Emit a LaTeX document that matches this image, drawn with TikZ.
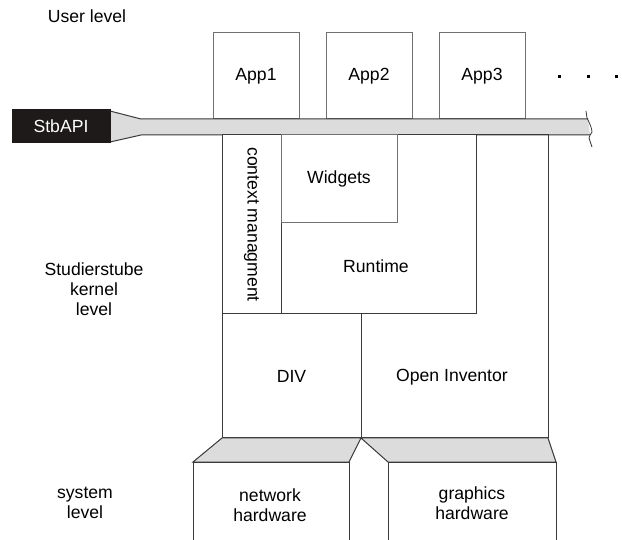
\documentclass[tikz,border=0pt]{standalone}
\usepackage{fontspec}
\setmainfont{Liberation Sans}
\newcommand\dfont{\fontsize{17.6}{21}\selectfont}
\definecolor{lc}{HTML}{3A3A3A}
\definecolor{lg}{HTML}{707070}
\definecolor{barfill}{HTML}{DCDCDC}
\definecolor{apifill}{HTML}{1E1A1A}
\begin{document}
\begin{tikzpicture}[x=1pt,y=-1pt,line width=1pt,line join=miter,
  box/.style={draw=lc,fill=white,inner sep=0pt,font=\dfont},
  gbox/.style={draw=lg,fill=white,inner sep=0pt,font=\dfont},
  lbl/.style={font=\dfont,align=center,inner sep=0pt},
  shade/.style={draw=lc,fill=barfill},
  dot/.style={fill=black,inner sep=0pt,minimum size=3pt}]
\useasboundingbox (0,0) rectangle (622,540);
\clip (0,0) rectangle (622,540);
% level labels
\node[lbl] (ul) at (87,16) {User level};
\node[lbl] (kl) at (94,289) {Studierstube\\[-1pt]kernel\\[-1pt]level};
\node[lbl] (sl) at (85,503) {system\\[-1pt]level};
% applications
\node[gbox,minimum width=86pt,minimum height=86pt] (app1) at (256,76) {App1};
\node[gbox,minimum width=86pt,minimum height=86pt] (app2) at (369,76) {App2};
\node[gbox,minimum width=86pt,minimum height=86pt] (app3) at (482,76) {App3};
\node[dot] (d1) at (559,77) {};
\node[dot] (d2) at (588,77) {};
\node[dot] (d3) at (616,77) {};
% API bar
\fill[barfill] (110,111) -- (141,119) -- (588,119) -- (590,135) -- (141,135) -- (110,142) -- cycle;
\draw[lc] (110,111) -- (141,119) -- (588,119);
\draw[lc] (110,142) -- (141,135) -- (590,135);
\draw[lc,line width=0.8pt] (586,111) -- (587,118) .. controls (589,122) and (592,128) .. (592,132) .. controls (591,134) and (589,136) .. (589,138) -- (592,147);
\node[draw=apifill,fill=apifill,text=white,font=\dfont,minimum width=98pt,minimum height=33pt,inner sep=0pt] (api) at (61,126.5) {StbAPI};
% kernel
\node[box,minimum width=59pt,minimum height=179pt] (ctx) at (251.5,224.5) {};
\node[lbl,rotate=-90] (ctxt) at (ctx.center) {context managment};
\node[box,minimum width=195pt,minimum height=179pt] (rt) at (378.5,224.5) {};
\node[lbl] (rtt) at (376,266) {Runtime};
\node[gbox,minimum width=116pt,minimum height=88pt] (wid) at (339,179) {Widgets};
\node[box,minimum width=139pt,minimum height=124pt] (div) at (291.5,376) {DIV};
\draw[lc] (361,438) -- (361,314) -- (476.5,314) -- (476.5,135) -- (548,135) -- (548,438) -- cycle;
\node[lbl] (oi) at (452,377) {Open Inventor};
% system
\draw[shade] (222,438) -- (361,438) -- (349,462) -- (193,462) -- cycle;
\draw[shade] (361,438) -- (548,438) -- (556,462) -- (388,462) -- cycle;
\draw[lc] (193,548) -- (193,462) -- (349,462) -- (349,548);
\draw[lc] (388,548) -- (388,462) -- (556,462) -- (556,548);
\node[lbl] (nh) at (270,505) {network\\[-1pt]hardware};
\node[lbl] (gh) at (472,503) {graphics\\[-1pt]hardware};
\end{tikzpicture}
\end{document}
